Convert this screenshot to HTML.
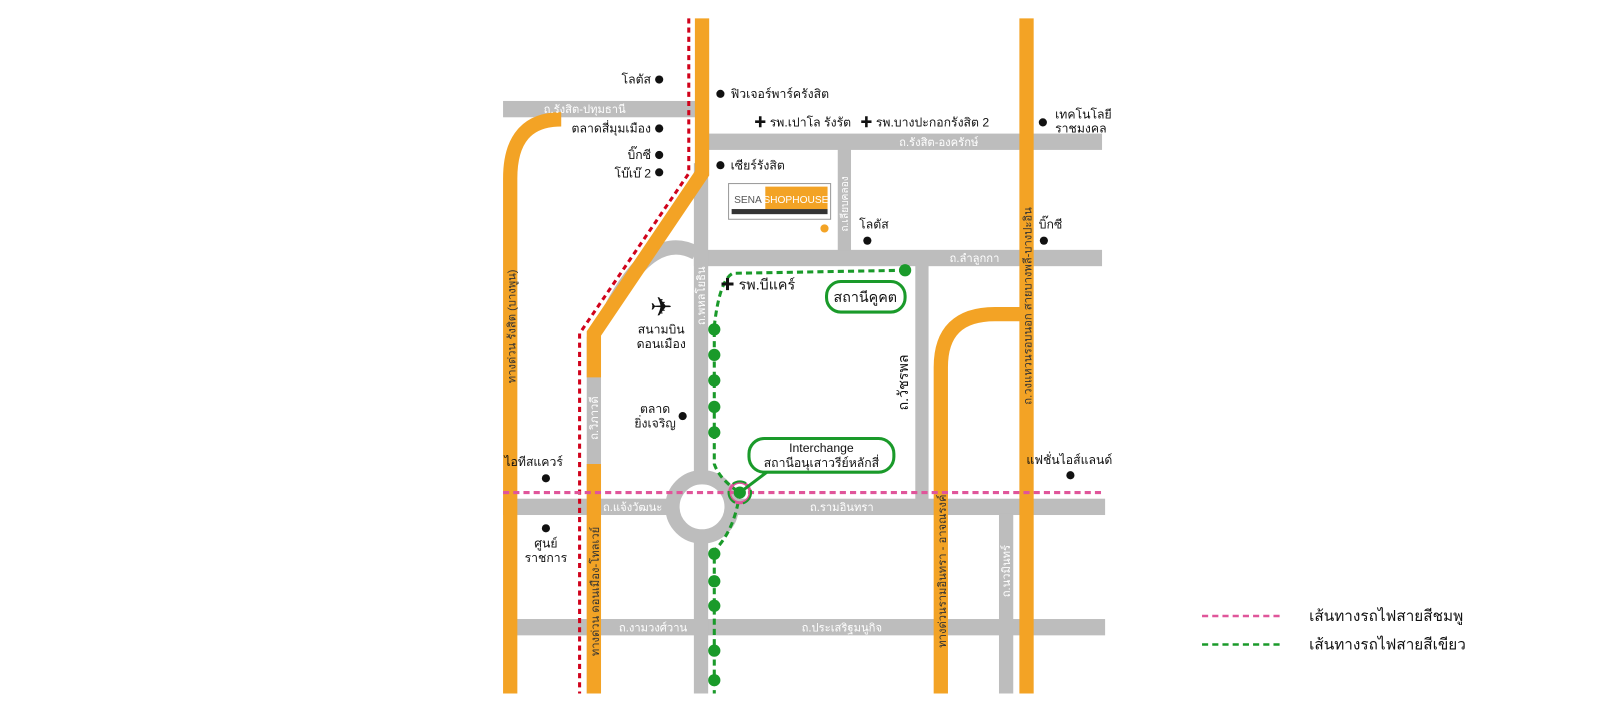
<!DOCTYPE html>
<html><head><meta charset="utf-8"><style>
html,body{margin:0;padding:0;background:#fff;}
svg{display:block;}
text{font-family:"Liberation Sans","Noto Sans CJK SC",sans-serif;}
.rl{fill:#fff;font-size:11px;}
.lb{fill:#111;font-size:12px;}
</style></head><body>
<svg width="1600" height="720" viewBox="0 0 1568 706" preserveAspectRatio="none" xmlns="http://www.w3.org/2000/svg">
<g fill="#bdbdbd">
<rect x="493" y="99" width="190" height="16"/>
<rect x="694" y="131" width="386" height="16"/>
<rect x="680" y="245" width="400" height="16"/>
<rect x="493" y="489" width="590" height="16"/>
<rect x="505" y="607" width="578" height="16"/>
<rect x="680" y="160" width="14" height="520"/>
<rect x="821" y="146" width="13" height="100"/>
<rect x="897" y="260" width="13" height="230"/>
<rect x="979" y="504" width="14" height="176"/>
<rect x="575" y="330" width="14" height="350"/>
</g>
<path d="M682,248 Q640,225 600,300" stroke="#bdbdbd" stroke-width="14" fill="none"/>
<circle cx="688" cy="497" r="29" fill="#fff" stroke="#bdbdbd" stroke-width="14"/>
<g stroke="#f3a325" stroke-width="14" fill="none">
<path d="M500,680 L500,175 Q500,117 550,117"/>
<path d="M688,18 L688,170 L582,327 L582,370"/>
<path d="M582,455 L582,680"/>
<path d="M1006,18 L1006,680"/>
<path d="M922,680 L922,360 Q922,308 975,308 L1006,308"/>
</g>
<path d="M675,18 L675,170 L568,327 L568,680" stroke="#d0021b" stroke-width="3" stroke-dasharray="5,4" fill="none"/>
<line x1="493" y1="483" x2="1083" y2="483" stroke="#e0559a" stroke-width="3" stroke-dasharray="6,4"/>
<g stroke="#1a9a2a" stroke-width="3" stroke-dasharray="6,4" fill="none">
<path d="M887,265 L718,268 Q705,275 700,320 L700,455 Q705,470 725,483"/>
<path d="M725,483 Q720,520 700,540 L700,680"/>
</g>
<g fill="#1a9a2a">
<circle cx="887" cy="265" r="6"/>
<circle cx="700" cy="323" r="6"/><circle cx="700" cy="348" r="6"/><circle cx="700" cy="373" r="6"/><circle cx="700" cy="399" r="6"/><circle cx="700" cy="424" r="6"/>
<circle cx="700" cy="543" r="6"/><circle cx="700" cy="570" r="6"/><circle cx="700" cy="594" r="6"/><circle cx="700" cy="638" r="6"/><circle cx="700" cy="667" r="6"/>
</g>
<circle cx="725" cy="483" r="10" fill="none" stroke="#e0559a" stroke-width="3"/>
<circle cx="725" cy="483" r="11" fill="none" stroke="#1a9a2a" stroke-width="2" stroke-dasharray="14,8"/>
<circle cx="725" cy="483" r="6" fill="#1a9a2a"/>
<line x1="725" y1="483" x2="762" y2="455" stroke="#1a9a2a" stroke-width="3"/>
<rect x="734" y="430" width="142" height="33" rx="15" fill="#fff" stroke="#1a9a2a" stroke-width="3"/>
<text x="805" y="443" text-anchor="middle" style="font-size:12px" fill="#111">Interchange</text>
<text x="805" y="458" text-anchor="middle" style="font-size:12px" fill="#111">สถานีอนุเสาวรีย์หลักสี่</text>
<rect x="810" y="276" width="77" height="30" rx="14" fill="#fff" stroke="#1a9a2a" stroke-width="3"/>
<text x="848" y="296" text-anchor="middle" style="font-size:14px" fill="#111">สถานีคูคต</text>
<!-- road labels -->
<text class="rl" x="573" y="111" text-anchor="middle">ถ.รังสิต-ปทุมธานี</text>
<text class="rl" x="920" y="143" text-anchor="middle">ถ.รังสิต-องครักษ์</text>
<text class="rl" x="955" y="257" text-anchor="middle">ถ.ลำลูกกา</text>
<text class="rl" x="620" y="501" text-anchor="middle">ถ.แจ้งวัฒนะ</text>
<text class="rl" x="825" y="501" text-anchor="middle">ถ.รามอินทรา</text>
<text class="rl" x="640" y="619" text-anchor="middle">ถ.งามวงศ์วาน</text>
<text class="rl" x="825" y="619" text-anchor="middle">ถ.ประเสริฐมนูกิจ</text>
<text class="rl" transform="translate(831,200) rotate(-90)" text-anchor="middle" style="font-size:10px">ถ.เลียบคลอง</text>
<text class="rl" transform="translate(691,290) rotate(-90)" text-anchor="middle">ถ.พหลโยธิน</text>
<text class="rl" transform="translate(586,410) rotate(-90)" text-anchor="middle">ถ.วิภาวดี</text>
<text class="rl" transform="translate(990,560) rotate(-90)" text-anchor="middle">ถ.นวมินทร์</text>
<text class="rl" transform="translate(505,320) rotate(-90)" text-anchor="middle" style="fill:#333">ทางด่วน รังสิต (บางพูน)</text>
<text class="rl" transform="translate(587,580) rotate(-90)" text-anchor="middle" style="fill:#333">ทางด่วน ดอนเมือง-โทลเวย์</text>
<text class="rl" transform="translate(1011,300) rotate(-90)" text-anchor="middle" style="fill:#333">ถ.วงแหวนรอบนอก สายบางพลี-บางปะอิน</text>
<text class="rl" transform="translate(927,560) rotate(-90)" text-anchor="middle" style="fill:#333">ทางด่วนรามอินทรา - อาจณรงค์</text>
<text transform="translate(890,375) rotate(-90)" text-anchor="middle" style="font-size:14px" fill="#111">ถ.วัชรพล</text>
<!-- POIs -->
<g fill="#111">
<circle cx="646" cy="78" r="4"/><circle cx="706" cy="92" r="4"/>
<circle cx="646" cy="126" r="4"/><circle cx="646" cy="152" r="4"/><circle cx="646" cy="169" r="4"/>
<circle cx="706" cy="162" r="4"/><circle cx="850" cy="236" r="4"/><circle cx="1023" cy="236" r="4"/>
<circle cx="1022" cy="120" r="4"/><circle cx="669" cy="408" r="4"/><circle cx="535" cy="469" r="4"/>
<circle cx="535" cy="518" r="4"/><circle cx="1049" cy="466" r="4"/>
</g>
<text class="lb" x="638" y="82" text-anchor="end">โลตัส</text>
<text class="lb" x="716" y="96">ฟิวเจอร์พาร์ครังสิต</text>
<text class="lb" x="638" y="130" text-anchor="end">ตลาดสี่มุมเมือง</text>
<text class="lb" x="638" y="156" text-anchor="end">บิ๊กซี</text>
<text class="lb" x="638" y="174" text-anchor="end">โบ๊เบ๊ 2</text>
<text class="lb" x="716" y="166">เซียร์รังสิต</text>
<text class="lb" x="739" y="124">✚ รพ.เปาโล รังรัต</text>
<text class="lb" x="843" y="124">✚ รพ.บางปะกอกรังสิต 2</text>
<text class="lb" x="1034" y="116">เทคโนโลยี</text>
<text class="lb" x="1034" y="130">ราชมงคล</text>
<text class="lb" x="842" y="224">โลตัส</text>
<text class="lb" x="1018" y="224">บิ๊กซี</text>
<text x="706" y="284" style="font-size:14px" fill="#111">✚ รพ.บีแคร์</text>
<text x="648" y="310" style="font-size:26px" fill="#111" text-anchor="middle">✈</text>
<text class="lb" x="648" y="327" text-anchor="middle">สนามบิน</text>
<text class="lb" x="648" y="341" text-anchor="middle">ดอนเมือง</text>
<text class="lb" x="642" y="405" text-anchor="middle">ตลาด</text>
<text class="lb" x="642" y="419" text-anchor="middle">ยิ่งเจริญ</text>
<text class="lb" x="523" y="457" text-anchor="middle">ไอทีสแควร์</text>
<text class="lb" x="535" y="537" text-anchor="middle">ศูนย์</text>
<text class="lb" x="535" y="551" text-anchor="middle">ราชการ</text>
<text class="lb" x="1048" y="455" text-anchor="middle">แฟชั่นไอส์แลนด์</text>
<!-- SENA logo -->
<rect x="714" y="180" width="100" height="35" fill="#fff" stroke="#999" stroke-width="1"/>
<rect x="717" y="183" width="94" height="25" fill="#fff"/>
<rect x="750" y="183" width="61" height="22" fill="#f3a325"/>
<rect x="717" y="205" width="94" height="5" fill="#333"/>
<text x="733" y="199" text-anchor="middle" style="font-size:10px" fill="#555">SENA</text>
<text x="780" y="199" text-anchor="middle" style="font-size:10px" fill="#fff">SHOPHOUSE</text>
<circle cx="808" cy="224" r="4" fill="#f3a325"/>
<!-- legend -->
<line x1="1178" y1="604" x2="1255" y2="604" stroke="#e0559a" stroke-width="2.5" stroke-dasharray="6,4"/>
<line x1="1178" y1="632" x2="1255" y2="632" stroke="#1a9a2a" stroke-width="2.5" stroke-dasharray="6,4"/>
<text x="1283" y="609" style="font-size:15px" fill="#111">เส้นทางรถไฟสายสีชมพู</text>
<text x="1283" y="637" style="font-size:15px" fill="#111">เส้นทางรถไฟสายสีเขียว</text>
</svg>
</body></html>
